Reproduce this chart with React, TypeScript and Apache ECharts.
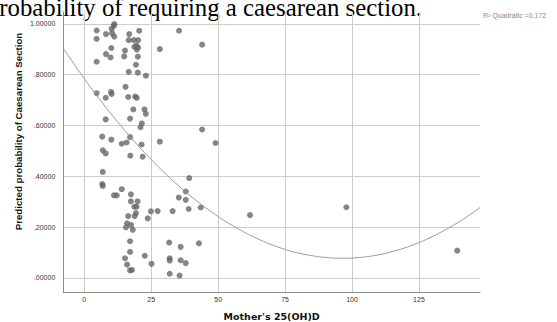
import { useEffect, useRef } from "react";
import * as echarts from "echarts";

// Mother's 25(OH)D values (x) and predicted probability of caesarean section (y)
const motherVitD = [
  4.6, 4.6, 8.1, 10.2, 11.0, 11.2, 10.4, 11.2, 16.8, 20.5,
  16.6, 18.5, 20.1, 18.7, 19.5, 20.1, 19.6, 10.1, 8.1, 9.8,
  15.2, 14.9, 20.0, 4.6, 28.2, 19.3, 16.6, 20.0, 23.0, 15.4,
  4.6, 8.0, 10.0, 10.2, 16.4, 19.0, 19.6, 18.3, 22.5, 23.0,
  8.0, 17.1, 21.5, 21.0, 6.7, 10.1, 14.0, 15.8, 17.1, 21.4,
  28.2, 6.9, 8.0, 17.2, 21.8, 6.9, 6.7, 6.9, 14.0, 11.1,
  12.1, 17.4, 17.4, 19.9, 18.7, 19.5, 19.3, 18.8, 16.4, 24.9,
  27.4, 23.7, 16.0, 15.6, 17.5, 18.1, 17.1, 17.1, 15.2, 22.6,
  16.0, 17.1, 17.8, 25.1, 35.4, 44.0, 44.0, 49.0, 39.2, 37.9,
  35.3, 37.9, 33.0, 39.0, 43.5, 61.9, 31.7, 36.0, 42.8, 31.9,
  31.9, 36.0, 37.9, 31.9, 35.6, 97.9, 139.3,
];
const predictedProb = [
  0.974, 0.941, 0.96, 0.98, 0.992, 0.999, 0.963, 0.95, 0.96, 0.973,
  0.936, 0.936, 0.936, 0.91, 0.915, 0.907, 0.899, 0.905, 0.881, 0.868,
  0.895, 0.872, 0.871, 0.851, 0.901, 0.839, 0.811, 0.808, 0.796, 0.752,
  0.727, 0.709, 0.732, 0.724, 0.712, 0.714, 0.709, 0.663, 0.663, 0.646,
  0.624, 0.627, 0.608, 0.593, 0.556, 0.544, 0.528, 0.533, 0.554, 0.525,
  0.536, 0.502, 0.49, 0.481, 0.477, 0.417, 0.369, 0.362, 0.349, 0.325,
  0.325, 0.329, 0.301, 0.301, 0.28, 0.28, 0.255, 0.243, 0.243, 0.262,
  0.263, 0.234, 0.215, 0.199, 0.208, 0.189, 0.144, 0.102, 0.077, 0.087,
  0.052, 0.029, 0.031, 0.055, 0.973, 0.918, 0.584, 0.531, 0.393, 0.34,
  0.316, 0.307, 0.263, 0.271, 0.277, 0.247, 0.139, 0.122, 0.136, 0.077,
  0.068, 0.069, 0.058, 0.016, 0.009, 0.278, 0.107,
];

const xTicks = [0, 25, 50, 75, 100, 125];
const yTicks = [0, 0.2, 0.4, 0.6, 0.8, 1.0];
const xRange = [-7.84, 147.8];
const yRange = [-0.057, 1.048];

// Quadratic fit: y = c0 + c1*x + c2*x^2
const fitCoefficients = [0.7847, -0.014668, 0.000076];
const rSquared = 0.172;

const titleText = "Probability of requiring a caesarean section.";
const xAxisName = "Mother's 25(OH)D";
const yAxisName = "Predicted probability of Caesarean Section";

export default function App() {
  const ref = useRef<HTMLDivElement>(null);

  useEffect(() => {
    if (!ref.current) return;
    const chart = echarts.init(ref.current, null, { renderer: "svg" });

    const points = motherVitD.map((x, i) => [x, predictedProb[i]]);
    const fitLine: number[][] = [];
    const steps = 200;
    for (let i = 0; i <= steps; i++) {
      const x = xRange[0] + ((xRange[1] - xRange[0]) * i) / steps;
      const y = fitCoefficients[0] + fitCoefficients[1] * x + fitCoefficients[2] * x * x;
      fitLine.push([x, y]);
    }

    const tickFont = "Liberation Sans";

    chart.setOption({
      animation: false,
      backgroundColor: "#ffffff",
      grid: {
        left: 63.3,
        right: 77,
        top: 11.7,
        bottom: 29.7,
        containLabel: false,
        outerBoundsMode: "none",
      },
      xAxis: {
        type: "value",
        min: xRange[0],
        max: xRange[1],
        name: xAxisName,
        nameLocation: "middle",
        nameGap: 19.5,
        nameTextStyle: {
          fontFamily: "DejaVu Sans",
          fontWeight: "bold",
          fontSize: 9.5,
          color: "#111",
        },
        axisLine: { show: true, onZero: false, lineStyle: { color: "#8c8c8c", width: 1 } },
        axisTick: { show: false, customValues: xTicks },
        axisLabel: {
          customValues: xTicks,
          margin: 4,
          fontFamily: tickFont,
          fontSize: 7,
          color: "#333",
        },
        splitLine: { show: true, lineStyle: { color: "#cccccc", width: 1 } },
      },
      yAxis: {
        type: "value",
        min: yRange[0],
        max: yRange[1],
        axisLine: { show: true, onZero: false, lineStyle: { color: "#8c8c8c", width: 1 } },
        axisTick: { show: false, customValues: yTicks },
        axisLabel: {
          customValues: yTicks,
          margin: 8,
          fontFamily: tickFont,
          fontSize: 7,
          color: "#333",
          formatter: (v: number) => v.toFixed(5).replace(/^0/, ""),
        },
        splitLine: { show: true, lineStyle: { color: "#cccccc", width: 1 } },
      },
      graphic: [
        {
          type: "text",
          x: -14.5,
          y: 7.6,
          silent: true,
          style: {
            text: titleText,
            fontFamily: "Liberation Serif",
            fontSize: 24.8,
            fill: "#000",
            align: "left",
            verticalAlign: "middle",
          },
        },
        {
          type: "text",
          x: 18,
          y: 131.5,
          rotation: Math.PI / 2,
          silent: true,
          style: {
            text: yAxisName,
            fontFamily: "Liberation Sans",
            fontWeight: "bold",
            fontSize: 9.7,
            fill: "#111",
            align: "center",
            verticalAlign: "middle",
          },
        },
        {
          type: "text",
          x: 483,
          y: 15,
          silent: true,
          style: {
            text: "R\u00B2 Quadratic =" + rSquared.toFixed(3),
            fontFamily: "Liberation Sans",
            fontSize: 7,
            fill: "#888",
            align: "left",
            verticalAlign: "middle",
          },
        },
      ],
      series: [
        {
          type: "scatter",
          data: points,
          symbol: "circle",
          symbolSize: 6,
          itemStyle: { color: "#666666" },
          z: 2,
        },
        {
          type: "line",
          data: fitLine,
          showSymbol: false,
          symbol: "none",
          smooth: false,
          lineStyle: { color: "#999999", width: 1 },
          z: 3,
        },
      ],
    });

    return () => {
      chart.dispose();
    };
  }, []);

  return (
    <div
      ref={ref}
      style={{ position: "fixed", left: 0, top: 0, width: 557, height: 322 }}
    />
  );
}
